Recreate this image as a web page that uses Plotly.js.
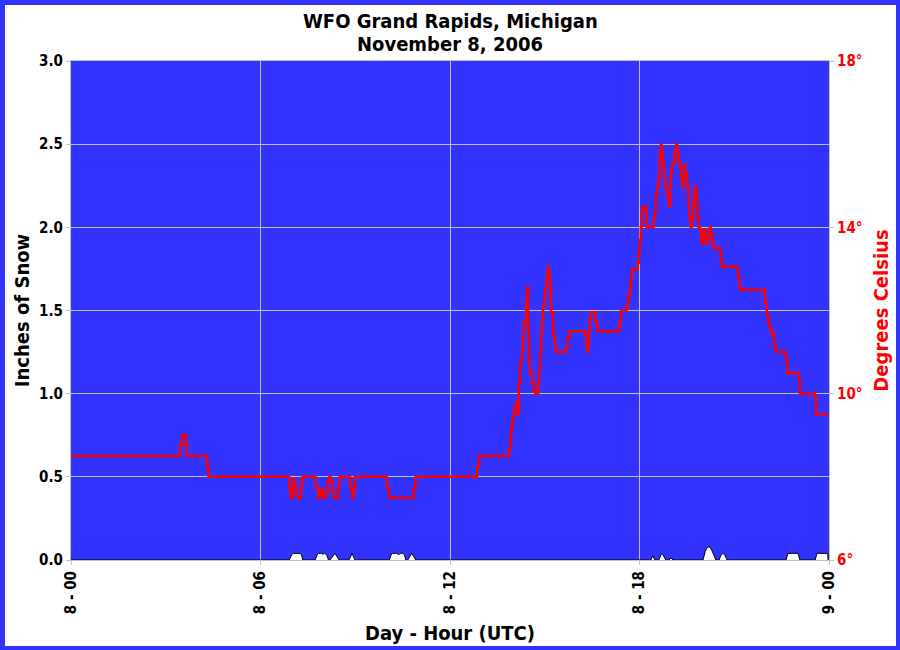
<!DOCTYPE html>
<html>
<head>
<meta charset="utf-8">
<script src="https://cdn.plot.ly/plotly-3.0.1.min.js"></script>
<style>
  html, body { margin: 0; padding: 0; background: #ffffff; }
  #wrap { position: relative; width: 900px; height: 650px; }
  #chart { position: absolute; left: 0; top: 0; width: 900px; height: 650px; }
  #frame { position: absolute; left: 0; top: 0; width: 900px; height: 650px; box-sizing: border-box;
           border-left: 5px solid #3333ff; border-top: 5px solid #3333ff;
           border-right: 4px solid #3333ff; border-bottom: 4px solid #3333ff;
           pointer-events: none; z-index: 10; }
</style>
</head>
<body>
<div id="wrap"><div id="chart"></div><div id="frame"></div></div>
<script>
// Hours after 8 Nov 00 UTC
var titleLines = ["WFO Grand Rapids, Michigan", "November 8, 2006"];
var xTickVals = [0, 6, 12, 18, 24];
var xTickText = ["8 - 00", "8 - 06", "8 - 12", "8 - 18", "9 - 00"];
var tempTickVals = [6, 10, 14, 18];
var tempTickText = ["6°", "10°", "14°", "18°"];

// Temperature (deg C), step series
var tempHours = [0, 3.45, 3.51, 3.64, 3.67, 4.31, 4.35, 6.91, 6.95, 7.01, 7.05, 7.09, 7.12, 7.17, 7.27, 7.31, 7.33,
  7.75, 7.83, 7.88, 7.91, 7.97, 8.01, 8.07, 8.13, 8.18, 8.22, 8.27, 8.31, 8.45, 8.50, 8.83, 8.90, 8.95, 8.99,
  10.0, 10.07, 10.85, 10.91, 12.86, 12.92, 13.86, 13.90, 13.93, 13.96, 13.99, 14.02, 14.09, 14.12, 14.15, 14.18,
  14.22, 14.28, 14.31, 14.34, 14.41, 14.44, 14.47, 14.50, 14.53, 14.60, 14.66, 14.70, 14.79, 14.82, 14.85, 14.88,
  14.91, 14.94, 14.98, 15.01, 15.04, 15.07, 15.10, 15.13, 15.17, 15.20, 15.26, 15.29, 15.33, 15.36, 15.67, 15.72,
  15.77, 16.26, 16.31, 16.34, 16.37, 16.40, 16.43, 16.46, 16.60, 16.65, 16.69, 17.35, 17.38, 17.41, 17.59, 17.64,
  17.70, 17.73, 17.76, 17.79, 17.95, 17.98, 18.01, 18.04, 18.07, 18.10, 18.19, 18.23, 18.45, 18.49, 18.52, 18.56,
  18.60, 18.63, 18.65, 18.68, 18.70, 18.73, 18.75, 18.78, 18.81, 18.86, 18.91, 18.94, 18.97, 18.99, 19.02, 19.07,
  19.10, 19.12, 19.16, 19.20, 19.23, 19.28, 19.31, 19.35, 19.37, 19.39, 19.42, 19.45, 19.49, 19.53, 19.55, 19.58,
  19.62, 19.65, 19.70, 19.73, 19.76, 19.79, 19.81, 19.84, 19.87, 19.92, 19.95, 19.98, 20.02, 20.05, 20.08, 20.13,
  20.16, 20.19, 20.23, 20.26, 20.30, 20.34, 20.55, 20.58, 20.61, 21.12, 21.16, 21.20, 21.97, 22.03, 22.08, 22.13,
  22.18, 22.26, 22.32, 22.64, 22.68, 23.05, 23.08, 23.56, 23.59, 23.96];
var tempC = [8.5, 8.75, 9.0, 8.75, 8.5, 8.25, 8.0, 7.75, 7.5, 7.75, 7.95, 7.8, 7.55, 7.5, 7.7, 7.95, 8.0,
  7.75, 7.5, 7.65, 7.7, 7.55, 7.5, 7.65, 7.9, 8.0, 7.9, 7.65, 7.5, 7.75, 8.0, 7.75, 7.5, 7.7, 8.0,
  7.75, 7.5, 7.75, 8.0, 8.25, 8.5, 8.65, 8.9, 9.1, 9.3, 9.45, 9.6, 9.8, 9.7, 9.5, 10.25,
  10.75, 11.05, 11.35, 11.75, 12.25, 12.55, 11.55, 10.85, 10.5, 10.25, 10.05, 10.0, 10.25, 10.6, 11.05, 11.45,
  11.8, 12.1, 12.25, 12.45, 12.65, 12.9, 13.05, 12.85, 12.55, 11.95, 11.45, 11.3, 11.1, 11.0, 11.1, 11.35,
  11.5, 11.45, 11.2, 11.0, 11.2, 11.5, 11.8, 11.95, 11.75, 11.6, 11.5, 11.6, 11.75, 12.0, 12.1, 12.35,
  12.55, 12.8, 12.95, 13.0, 13.15, 13.45, 13.7, 14.0, 14.35, 14.5, 14.4, 14.0, 14.2, 14.4, 14.8, 15.0,
  15.2, 15.55, 15.85, 16.0, 15.8, 15.6, 15.45, 15.2, 15.0, 14.8, 14.65, 14.5, 15.0, 15.3, 15.5, 15.55,
  15.7, 15.85, 16.0, 15.8, 15.6, 15.45, 15.2, 15.05, 14.95, 15.25, 15.5, 15.3, 15.1, 14.9, 14.55, 14.2,
  14.0, 14.2, 14.6, 14.85, 15.0, 14.85, 14.55, 14.25, 14.0, 13.95, 13.75, 13.6, 13.85, 13.95, 13.75, 13.6,
  13.75, 13.95, 14.0, 13.85, 13.7, 13.5, 13.4, 13.15, 13.05, 12.8, 12.55, 12.5, 12.2, 11.9, 11.7, 11.55,
  11.45, 11.15, 11.0, 10.8, 10.5, 10.3, 10.0, 9.9, 9.5, 9.5];

// Snow (inches)
var snowHours = [0, 6.91, 6.98, 7.04, 7.25, 7.30, 7.34, 7.73, 7.79, 7.84, 7.93, 7.97, 8.03, 8.10, 8.15, 8.20, 8.36, 8.49,
  8.80, 8.90, 8.99, 10.08, 10.13, 10.18, 10.32, 10.37, 10.42, 10.50, 10.56, 10.60, 10.66, 10.79, 10.92,
  18.36, 18.42, 18.49, 18.61, 18.67, 18.70, 18.75, 18.83, 18.93, 19.00, 19.06,
  20.01, 20.08, 20.14, 20.20, 20.26, 20.33, 20.42, 20.52, 20.58, 20.64, 20.70, 20.77,
  22.64, 22.70, 23.02, 23.08, 23.56, 23.62, 23.96, 23.97, 24];
var snowIn = [0, 0, 0.03, 0.04, 0.04, 0.03, 0, 0, 0.03, 0.04, 0.04, 0.035, 0.04, 0.03, 0, 0, 0.04, 0,
  0, 0.04, 0, 0, 0.03, 0.04, 0.04, 0.03, 0.04, 0.04, 0.03, 0, 0, 0.04, 0,
  0, 0.025, 0, 0, 0.03, 0.04, 0.03, 0, 0, 0.012, 0,
  0, 0.05, 0.075, 0.08, 0.07, 0.04, 0, 0, 0.03, 0.04, 0.03, 0,
  0, 0.04, 0.04, 0, 0, 0.04, 0.04, 0, 0];

var FONT = "DejaVu Sans Condensed, DejaVu Sans, sans-serif";
var GRID = "#c0c0c0";

var traces = [
  {
    x: snowHours, y: snowIn, type: "scatter", mode: "lines",
    fill: "tozeroy", fillcolor: "#ffffff",
    line: { color: "#000000", width: 1, shape: "linear" },
    yaxis: "y", hoverinfo: "skip", showlegend: false
  },
  {
    x: tempHours, y: tempC, type: "scatter", mode: "lines",
    line: { color: "#ff0000", width: 2.5, shape: "hv" },
    yaxis: "y2", hoverinfo: "skip", showlegend: false
  }
];

var titleFont = { family: FONT, size: 20, color: "#000000", weight: "bold" };
var plotH = 650 - 61 - 90;

var layout = {
  width: 900, height: 650,
  paper_bgcolor: "#ffffff", plot_bgcolor: "#3333ff",
  margin: { l: 71, r: 71, t: 61, b: 90, pad: 0 },
  showlegend: false,
  annotations: [
    { text: titleLines[0], xref: "paper", yref: "paper", x: 0.5, y: 1 + 40 / plotH,
      xanchor: "center", yanchor: "middle", showarrow: false, font: titleFont },
    { text: titleLines[1], xref: "paper", yref: "paper", x: 0.5, y: 1 + 17 / plotH,
      xanchor: "center", yanchor: "middle", showarrow: false, font: titleFont }
  ],
  xaxis: {
    range: [0, 24], tickmode: "array", tickvals: xTickVals, ticktext: xTickText,
    tickangle: -90, ticks: "outside", ticklen: 4, tickcolor: GRID,
    tickfont: { family: FONT, size: 15, color: "#000000", weight: "bold" },
    showgrid: true, gridcolor: GRID, gridwidth: 1, zeroline: false,
    showline: true, linecolor: GRID, linewidth: 1, mirror: true,
    title: { text: "Day - Hour (UTC)", standoff: 12,
      font: { family: FONT, size: 20, color: "#000000", weight: "bold" } }
  },
  yaxis: {
    range: [0, 3], dtick: 0.5, tick0: 0, tickformat: ".1f",
    ticks: "outside", ticklen: 4, tickcolor: GRID,
    tickfont: { family: FONT, size: 15, color: "#000000", weight: "bold" },
    showgrid: true, gridcolor: GRID, gridwidth: 1, zeroline: false,
    showline: true, linecolor: GRID, linewidth: 1,
    title: { text: "Inches of Snow", standoff: 4,
      font: { family: FONT, size: 20, color: "#000000", weight: "bold" } }
  },
  yaxis2: {
    range: [6, 18], overlaying: "y", side: "right",
    tickmode: "array", tickvals: tempTickVals, ticktext: tempTickText,
    ticks: "outside", ticklen: 4, tickcolor: GRID,
    tickfont: { family: FONT, size: 15, color: "#ff0000", weight: "bold" },
    showgrid: false, zeroline: false,
    showline: true, linecolor: GRID, linewidth: 1,
    title: { text: "Degrees Celsius", standoff: 12,
      font: { family: FONT, size: 20, color: "#ff0000", weight: "bold" } }
  }
};

Plotly.newPlot("chart", traces, layout, { staticPlot: true, displayModeBar: false });
</script>
</body>
</html>
